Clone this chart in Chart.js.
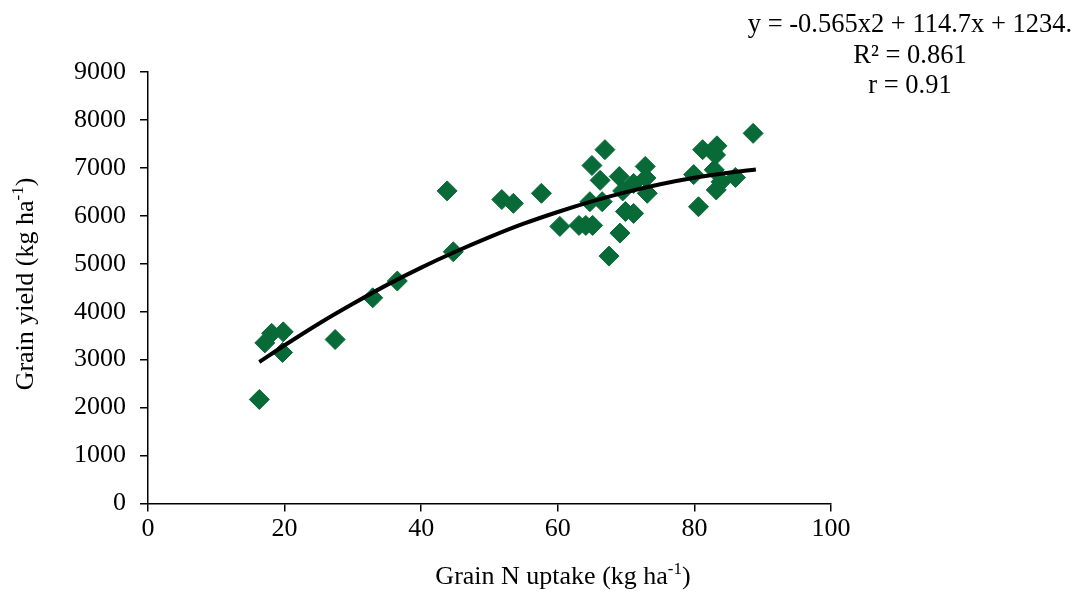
<!DOCTYPE html>
<html>
<head>
<meta charset="utf-8">
<script src="https://cdn.jsdelivr.net/npm/chart.js@4.4.1/dist/chart.umd.min.js"></script>
<style>
  html, body { margin: 0; padding: 0; background: #ffffff; }
  #wrap { width: 1078px; height: 592px; position: relative; }
</style>
</head>
<body>
<div id="wrap"><canvas id="c" width="1078" height="592"></canvas></div>
<script>
// ---- Data ----
const nUptake = [16.3, 17.1, 18.1, 19.8, 19.7, 27.4, 32.9, 36.5, 43.8, 44.7,
                 51.8, 53.5, 57.6, 60.3, 63.1, 64.1, 65.1, 65.0, 66.9, 66.2,
                 64.7, 66.5, 69.0, 71.1, 69.5, 72.8, 72.9, 73.1, 69.9, 71.1,
                 69.1, 67.5, 81.2, 83.3, 83.1, 79.9, 82.9, 83.9, 86.0, 83.2,
                 80.6, 88.6];
const grainYield = [2170, 3350, 3550, 3580, 3150, 3420, 4290, 4640, 6520, 5250,
                    6340, 6260, 6470, 5780, 5800, 5800, 5800, 7050, 7380, 6740,
                    6295, 6295, 6820, 6675, 6520, 7030, 6790, 6470, 6090, 6050,
                    5640, 5160, 7380, 7460, 7270, 6860, 6960, 6710, 6800, 6540,
                    6190, 7720];
// trend curve, read along the drawn polynomial trendline
const trendX = [16.3, 20, 25, 30, 35, 40, 45, 50, 55, 60, 65, 70, 75, 80, 85, 89];
const trendY = [2950, 3300, 3750, 4165, 4560, 4920, 5250, 5555, 5835, 6080, 6300, 6495, 6660, 6795, 6900, 6965];
const xTicks = [0, 20, 40, 60, 80, 100];
const yTicks = [0, 1000, 2000, 3000, 4000, 5000, 6000, 7000, 8000, 9000];
const equationLines = ['y = -0.565x2 + 114.7x + 1234.', 'R\u00B2 = 0.861', 'r = 0.91'];
const xTitle = { main: 'Grain N uptake (kg ha', sup: '-1', tail: ')' };
const yTitle = { main: 'Grain yield (kg ha', sup: '-1', tail: ')' };

const FONT = '"Liberation Serif", "Times New Roman", serif';
const GREEN = '#086a37';

function drawSupText(ctx, t, cx, baseY, size) {
  ctx.font = size + 'px ' + FONT;
  const w1 = ctx.measureText(t.main).width;
  const w3 = ctx.measureText(t.tail).width;
  const supSize = Math.round(size * 0.65);
  ctx.font = supSize + 'px ' + FONT;
  const w2 = ctx.measureText(t.sup).width;
  let x = cx - (w1 + w2 + w3) / 2;
  ctx.textAlign = 'left';
  ctx.textBaseline = 'alphabetic';
  ctx.font = size + 'px ' + FONT;
  ctx.fillText(t.main, x, baseY);
  x += w1;
  ctx.font = supSize + 'px ' + FONT;
  ctx.fillText(t.sup, x, baseY - size * 0.38);
  x += w2;
  ctx.font = size + 'px ' + FONT;
  ctx.fillText(t.tail, x, baseY);
}

const textPlugin = {
  id: 'texts',
  afterDraw(chart) {
    const ctx = chart.ctx;
    ctx.save();
    ctx.fillStyle = '#000';
    drawSupText(ctx, xTitle, 563, 584, 26);
    ctx.save();
    ctx.translate(33, 284);
    ctx.rotate(-Math.PI / 2);
    drawSupText(ctx, yTitle, 0, 0, 26);
    ctx.restore();
    ctx.font = '26.5px ' + FONT;
    ctx.textAlign = 'center';
    ctx.textBaseline = 'alphabetic';
    const bases = [32, 63, 93];
    equationLines.forEach((l, i) => ctx.fillText(l, 910, bases[i]));
    ctx.restore();
  }
};

const points = nUptake.map((x, i) => ({ x: x, y: grainYield[i] }));
const trend = trendX.map((x, i) => ({ x: x, y: trendY[i] }));

new Chart(document.getElementById('c'), {
  type: 'scatter',
  data: {
    datasets: [
      {
        type: 'line',
        data: trend,
        borderColor: '#000',
        borderWidth: 4,
        pointRadius: 0,
        fill: false,
        showLine: true,
        tension: 0.4,
        cubicInterpolationMode: 'monotone',
        order: 0
      },
      {
        data: points,
        pointStyle: 'rectRot',
        pointRadius: 10,
        pointBackgroundColor: GREEN,
        pointBorderColor: GREEN,
        pointBorderWidth: 1,
        order: 1
      }
    ]
  },
  options: {
    responsive: false,
    animation: false,
    devicePixelRatio: 1,
    layout: { padding: { left: 0, top: 72, right: 247, bottom: 0 } },
    plugins: { legend: { display: false }, tooltip: { enabled: false }, title: { display: false } },
    scales: {
      x: {
        type: 'linear',
        min: 0, max: 100,
        afterBuildTicks: (s) => { s.ticks = xTicks.map(v => ({ value: v })); },
        afterFit: (s) => { s.height = 88.5; },
        grid: { display: true, drawOnChartArea: false, drawTicks: true, tickLength: 8, color: '#000', lineWidth: 1.5 },
        border: { display: true, color: '#000', width: 1.5 },
        ticks: { color: '#000', font: { family: FONT, size: 26 }, padding: 2, maxRotation: 0,
                 callback: (v) => String(v) }
      },
      y: {
        type: 'linear',
        min: 0, max: 9000,
        afterBuildTicks: (s) => { s.ticks = yTicks.map(v => ({ value: v })); },
        afterFit: (s) => { s.width = 148; },
        grid: { display: true, drawOnChartArea: false, drawTicks: true, tickLength: 8, color: '#000', lineWidth: 1.5 },
        border: { display: true, color: '#000', width: 1.5 },
        ticks: { color: '#000', font: { family: FONT, size: 26 }, padding: 14,
                 callback: (v) => String(v) }
      }
    }
  },
  plugins: [textPlugin]
});
</script>
</body>
</html>
